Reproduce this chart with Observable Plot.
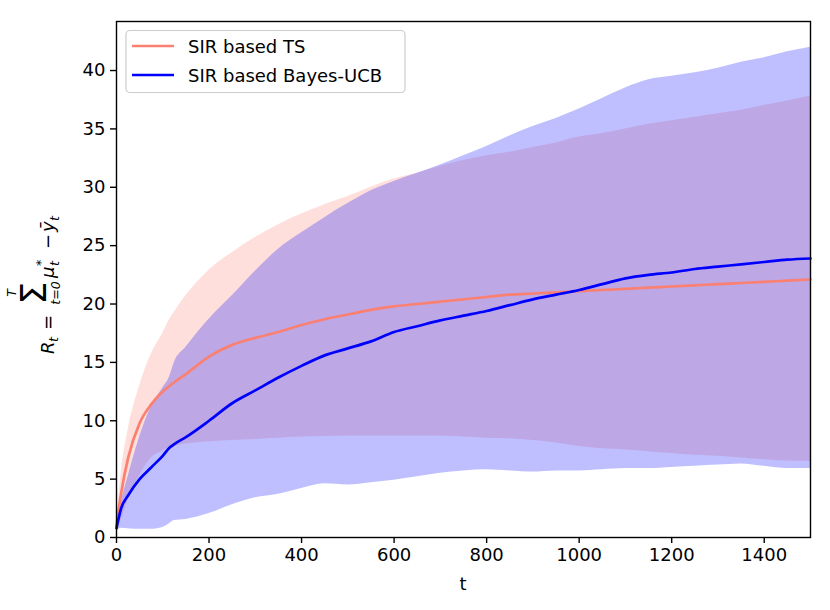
<!DOCTYPE html>
<html>
<head>
<meta charset="utf-8">
<script src="https://cdn.jsdelivr.net/npm/d3@7"></script>
<script src="https://cdn.jsdelivr.net/npm/@observablehq/plot@0.6"></script>
<style>
  html, body { margin: 0; padding: 0; background: #fff; }
  #chart { width: 830px; height: 610px; }
</style>
</head>
<body>
<div id="chart"></div>
<script>
const steps   = [0, 10, 25, 50, 75, 100, 115, 125, 150, 200, 250, 300, 350, 400, 450, 500, 550, 600, 650, 700, 750, 800, 850, 900, 950, 1000, 1050, 1100, 1150, 1200, 1250, 1300, 1350, 1400, 1450, 1500];
const tsMean  = [1.0, 3.8, 6.8, 9.8, 11.4, 12.5, 13.0, 13.3, 14.0, 15.5, 16.5, 17.1, 17.6, 18.2, 18.7, 19.1, 19.5, 19.8, 20.0, 20.2, 20.4, 20.6, 20.8, 20.9, 21.0, 21.1, 21.2, 21.3, 21.4, 21.5, 21.6, 21.7, 21.8, 21.9, 22.0, 22.1];
const tsLow   = [0.5, 1.5, 3.2, 5.3, 6.8, 7.4, 7.7, 7.8, 8.0, 8.2, 8.3, 8.4, 8.5, 8.6, 8.65, 8.7, 8.7, 8.7, 8.7, 8.7, 8.6, 8.5, 8.45, 8.3, 8.1, 7.8, 7.6, 7.5, 7.35, 7.2, 7.05, 6.95, 6.8, 6.65, 6.55, 6.5];
const tsHigh  = [1.2, 5.5, 9.2, 13.0, 15.7, 17.5, 18.7, 19.3, 20.7, 22.9, 24.4, 25.7, 26.8, 27.7, 28.5, 29.2, 30.0, 30.7, 31.2, 31.8, 32.3, 32.7, 33.0, 33.4, 33.8, 34.3, 34.6, 35.0, 35.4, 35.7, 36.0, 36.3, 36.6, 37.0, 37.4, 37.8];
const ucbMean = [0.8, 2.5, 3.6, 5.0, 6.0, 7.0, 7.7, 8.0, 8.6, 10.0, 11.5, 12.6, 13.7, 14.7, 15.6, 16.2, 16.8, 17.6, 18.1, 18.6, 19.0, 19.4, 19.9, 20.4, 20.8, 21.2, 21.7, 22.2, 22.5, 22.7, 23.0, 23.2, 23.4, 23.6, 23.8, 23.9];
const ucbLow  = [0.5, 0.8, 0.75, 0.7, 0.7, 0.85, 1.2, 1.45, 1.55, 2.05, 2.8, 3.4, 3.7, 4.2, 4.6, 4.5, 4.7, 4.9, 5.2, 5.5, 5.7, 5.8, 5.7, 5.6, 5.7, 5.7, 5.8, 5.9, 5.9, 6.0, 6.1, 6.2, 6.3, 6.1, 5.9, 5.9];
const ucbHigh = [1.0, 3.0, 5.2, 8.6, 11.2, 12.8, 13.8, 15.0, 16.3, 18.7, 20.7, 22.8, 24.7, 26.1, 27.4, 28.6, 29.7, 30.5, 31.2, 31.9, 32.7, 33.5, 34.4, 35.2, 35.9, 36.7, 37.6, 38.5, 39.2, 39.5, 39.8, 40.2, 40.7, 41.1, 41.6, 42.0];

const xTicks = [0, 200, 400, 600, 800, 1000, 1200, 1400];
const yTicks = [0, 5, 10, 15, 20, 25, 30, 35, 40];
const seriesNames = ["SIR based TS", "SIR based Bayes-UCB"];
const seriesColors = ["#fa8072", "#0000ff"];

const rows = steps.map((t, i) => ({
  t, tsMean: tsMean[i], tsLow: tsLow[i], tsHigh: tsHigh[i],
  ucbMean: ucbMean[i], ucbLow: ucbLow[i], ucbHigh: ucbHigh[i]
}));

const W = 830, H = 610;
const mL = 116, mR = 20, mT = 21, mB = 73;
const crv = "monotone-x";

const chart = Plot.plot({
  width: W, height: H,
  marginLeft: mL, marginRight: mR, marginTop: mT, marginBottom: mB,
  style: { fontFamily: "DejaVu Sans", fontSize: "18px", color: "black", background: "white" },
  x: { domain: [0, 1500] },
  y: { domain: [0, 44.2] },
  marks: [
    Plot.areaY(rows, { x: "t", y1: "tsLow", y2: "tsHigh", fill: seriesColors[0], fillOpacity: 0.25, curve: crv }),
    Plot.areaY(rows, { x: "t", y1: "ucbLow", y2: "ucbHigh", fill: seriesColors[1], fillOpacity: 0.25, curve: crv }),
    Plot.line(rows, { x: "t", y: "tsMean", stroke: seriesColors[0], strokeWidth: 2.7, curve: crv }),
    Plot.line(rows, { x: "t", y: "ucbMean", stroke: seriesColors[1], strokeWidth: 2.7, curve: crv }),
    Plot.frame({ stroke: "black", strokeWidth: 1.4 }),
    Plot.axisX({ ticks: xTicks, tickFormat: d => String(d), tickSize: 6, tickPadding: 5, label: null, fontSize: 18, strokeWidth: 1.4 }),
    Plot.axisY({ ticks: yTicks, tickFormat: d => String(d), tickSize: 6, tickPadding: 5, label: null, fontSize: 18, strokeWidth: 1.4 })
  ]
});
document.getElementById("chart").appendChild(chart);

const svg = d3.select(chart);
const ff = "DejaVu Sans";

// x label
svg.append("text").attr("x", (mL + W - mR) / 2).attr("y", 590)
  .attr("text-anchor", "middle").attr("font-family", ff).attr("font-size", 18).attr("fill", "black").text("t");

// y label (math)
const g = svg.append("g").attr("transform", "translate(54,280) rotate(-90)")
  .attr("font-family", ff).attr("fill", "black");
function piece(txt, x, y, size, italic, anchor, scale) {
  const s = scale || 1;
  g.append("text")
    .attr("transform", `translate(${x},${y}) scale(${s})`)
    .style("font-size", size + "px")
    .style("font-family", ff)
    .style("font-style", italic ? "italic" : "normal")
    .attr("text-anchor", anchor || "start").text(txt);
}
piece("R", -74, 0, 18, true);
piece("t", -62, 4, 12.6, true);
piece("=", -50, 0, 18, false);
piece("\u03a3", -13, -8, 18, false, "middle", 2.0);
piece("T", -13, -38, 12.6, true, "middle");
piece("t=0", -13, 6, 12.6, true, "middle");
piece("\u03bc", 2, 0, 18, true);
piece("*", 14, -9, 12.6, false);
piece("t", 14, 5, 12.6, true);
piece("\u2212", 31, 0, 18, false);
piece("\u0233", 48, 0, 18, true);
piece("t", 59, 5, 12.6, true);

// legend
const lg = svg.append("g");
lg.append("rect").attr("x", 126).attr("y", 30.5).attr("width", 279).attr("height", 62)
  .attr("rx", 4).attr("fill", "white").attr("fill-opacity", 0.8)
  .attr("stroke", "#cccccc").attr("stroke-width", 1.2);
seriesNames.forEach((name, i) => {
  const yy = 46 + i * 29;
  lg.append("line").attr("x1", 132).attr("x2", 174).attr("y1", yy).attr("y2", yy)
    .attr("stroke", seriesColors[i]).attr("stroke-width", 2.7);
  lg.append("text").attr("x", 188).attr("y", yy + 7).attr("font-family", ff)
    .attr("text-anchor", "start")
    .attr("font-size", 18).attr("fill", "black").text(name);
});
</script>
</body>
</html>
